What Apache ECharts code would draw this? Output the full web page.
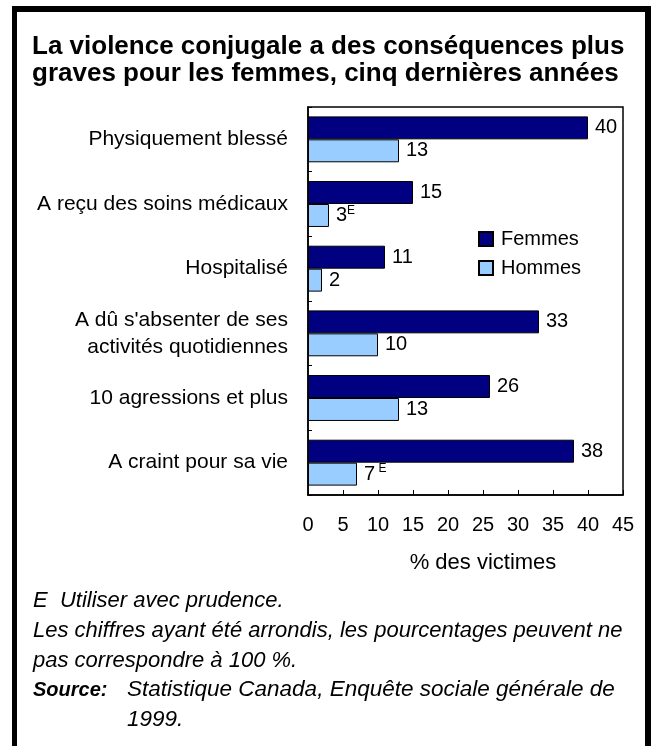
<!DOCTYPE html>
<html>
<head>
<meta charset="utf-8">
<script src="https://cdn.jsdelivr.net/npm/echarts@6/dist/echarts.min.js"></script>
<style>
html,body{margin:0;padding:0;background:#fff;}
#chart{width:652px;height:746px;}
</style>
</head>
<body>
<div id="chart"></div>
<script>
const categories = [
  "Physiquement blessé",
  "A reçu des soins médicaux",
  "Hospitalisé",
  "A dû s'absenter de ses\nactivités quotidiennes",
  "10 agressions et plus",
  "A craint pour sa vie"
];
const femmes = [40, 15, 11, 33, 26, 38];
const hommes = [13, 3, 2, 10, 13, 7];
const hommesFlags = ["", "E", "", "", "", " E"];
const xTicks = [0, 5, 10, 15, 20, 25, 30, 35, 40, 45];

const FONT = "'Liberation Sans', Arial, sans-serif";
const chart = echarts.init(document.getElementById('chart'));

const option = {
  backgroundColor: '#fff',
  animation: false,
  textStyle: { fontFamily: FONT },
  grid: {
    left: 308, right: 29, top: 107, bottom: 251,
    show: true, borderColor: '#000', borderWidth: 1.5, backgroundColor: 'transparent'
  },
  legend: {
    orient: 'vertical',
    left: 478, top: 229, padding: 0,
    itemWidth: 14, itemHeight: 14, itemGap: 9,
    icon: 'rect',
    textStyle: { fontSize: 20, color: '#000', fontFamily: FONT, padding: [0, 0, 0, 3] },
    data: ['Femmes', 'Hommes']
  },
  xAxis: {
    type: 'value',
    min: xTicks[0], max: xTicks[xTicks.length - 1], interval: 5,
    axisLine: { show: true, lineStyle: { color: '#000', width: 1.5 } },
    axisTick: { show: true, inside: true, length: 5, lineStyle: { color: '#000' } },
    axisLabel: { fontSize: 20, color: '#000', margin: 20, fontFamily: FONT },
    splitLine: { show: false }
  },
  yAxis: {
    type: 'category',
    inverse: true,
    data: categories,
    axisLine: { show: true, lineStyle: { color: '#000', width: 1.5 } },
    axisTick: { show: true, inside: true, length: 4, lineStyle: { color: '#000' } },
    axisLabel: { fontSize: 21, color: '#000', margin: 20, lineHeight: 27, fontFamily: FONT }
  },
  series: [
    {
      name: 'Femmes', type: 'bar', data: femmes,
      barGap: '0%', barCategoryGap: '29%',
      itemStyle: { color: '#000080', borderColor: '#000', borderWidth: 1 },
      label: { show: true, position: 'right', distance: 7, fontSize: 20, color: '#000', fontFamily: FONT }
    },
    {
      name: 'Hommes', type: 'bar', data: hommes,
      itemStyle: { color: '#99CCFF', borderColor: '#000', borderWidth: 1 },
      label: {
        show: true, position: 'right', distance: 7, color: '#000', fontFamily: FONT,
        formatter: function (p) {
          const f = hommesFlags[p.dataIndex];
          return f ? '{v|' + p.value + '}{e|' + f + '}' : '{v|' + p.value + '}';
        },
        rich: {
          v: { fontSize: 20, color: '#000', fontFamily: FONT, lineHeight: 22 },
          e: { fontSize: 12, color: '#000', fontFamily: FONT, verticalAlign: 'top', lineHeight: 22, padding: [0, 0, 7, 0] }
        }
      }
    }
  ],
  graphic: [
    { type: 'rect', shape: { x: 12, y: 6, width: 639, height: 6 }, style: { fill: '#000' } },
    { type: 'rect', shape: { x: 12, y: 6, width: 5, height: 740 }, style: { fill: '#000' } },
    { type: 'rect', shape: { x: 645, y: 6, width: 6, height: 740 }, style: { fill: '#000' } },
    { type: 'text', left: 32, top: 33, style: { text: 'La violence conjugale a des conséquences plus\ngraves pour les femmes, cinq dernières années', font: "bold 26px " + FONT, lineHeight: 27, fill: '#000' } },
    { type: 'text', x: 483, y: 563, style: { text: '% des victimes', font: "22px " + FONT, fill: '#000', textAlign: 'center', textVerticalAlign: 'middle' } },
    { type: 'text', left: 33, top: 586, style: { text: 'E  Utiliser avec prudence.\nLes chiffres ayant été arrondis, les pourcentages peuvent ne\npas correspondre à 100 %.', font: "italic 22px " + FONT, lineHeight: 30, fill: '#000' } },
    { type: 'text', left: 33, top: 675, style: { text: 'Source:', font: "italic bold 20px " + FONT, lineHeight: 30, fill: '#000' } },
    { type: 'text', left: 127, top: 675, style: { text: 'Statistique Canada, Enquête sociale générale de\n1999.', font: "italic 22.5px " + FONT, lineHeight: 30, fill: '#000' } }
  ]
};
chart.setOption(option);
</script>
</body>
</html>
